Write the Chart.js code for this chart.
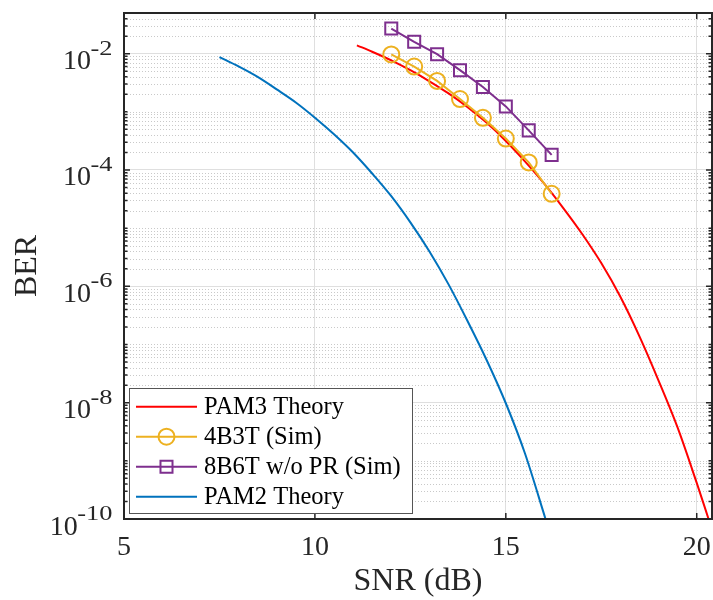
<!DOCTYPE html>
<html>
<head>
<meta charset="utf-8">
<script src="https://cdn.jsdelivr.net/npm/chart.js@4/dist/chart.umd.min.js"></script>
<style>
  html, body { margin: 0; padding: 0; background: #fff; }
  #wrap { width: 713px; height: 600px; }
</style>
</head>
<body>
<div id="wrap"><canvas id="ber_chart" width="713" height="600"></canvas></div>
<script>
// axis ticks
const snrTicks = [5, 10, 15, 20];
const berTicks = [1e-10, 1e-8, 1e-6, 1e-4, 1e-2];

// PAM3 theory
const pam3Snr = [11.1, 11.5, 12, 12.5, 13, 13.5, 14, 14.5, 15, 15.5, 16, 16.5, 17, 17.5, 18, 18.5, 19, 19.5, 20, 20.31];
const pam3Ber = [1.39e-2, 1.08e-2, 7.67e-3, 5.19e-3, 3.35e-3, 2.07e-3, 1.2e-3, 6.46e-4, 3.16e-4, 1.41e-4, 5.89e-5, 2.24e-5, 7.94e-6, 2.51e-6, 6.61e-7, 1.38e-7, 2.4e-8, 3.72e-9, 4.17e-10, 1.0e-10];

// PAM2 theory
const pam2Snr = [7.5, 8, 8.5, 9, 9.5, 10, 10.5, 11, 11.5, 12, 12.5, 13, 13.5, 14, 14.5, 15, 15.5, 16.04];
const pam2Ber = [8.75e-3, 6.03e-3, 3.98e-3, 2.43e-3, 1.45e-3, 7.94e-4, 4.12e-4, 2.0e-4, 8.71e-5, 3.55e-5, 1.26e-5, 3.98e-6, 1.08e-6, 2.51e-7, 5.37e-8, 9.77e-9, 1.35e-9, 1.0e-10];

// simulations
const simSnr = [12, 12.6, 13.2, 13.8, 14.4, 15, 15.6, 16.2];
const ber4b3t = [9.7e-3, 6.0e-3, 3.4e-3, 1.66e-3, 7.9e-4, 3.47e-4, 1.35e-4, 3.9e-5];
const ber8b6t = [2.7e-2, 1.6e-2, 9.8e-3, 5.2e-3, 2.67e-3, 1.24e-3, 4.8e-4, 1.82e-4];

const FONT = '"Liberation Serif", "Times New Roman", serif';
const AXIS = '#262626';

const toPoints = (xs, ys) => xs.map((x, i) => ({ x, y: ys[i] }));

const minorBer = [];
for (let e = -10; e <= -2; e++) {
  for (let m = 1; m <= 9; m++) {
    if (m === 1 && e % 2 === 0) continue;
    const v = m * Math.pow(10, e);
    if (v > 1e-10 && v < 0.05) minorBer.push(v);
  }
}

const matlabAxes = {
  id: 'matlabAxes',
  beforeDatasetsDraw(chart) {
    const { ctx, chartArea: { left, right }, scales: { y } } = chart;
    ctx.save();
    ctx.strokeStyle = '#c9c9c9';
    ctx.lineWidth = 1;
    ctx.setLineDash([1, 2]);
    ctx.beginPath();
    minorBer.forEach(v => {
      const py = Math.round(y.getPixelForValue(v)) + 0.5;
      ctx.moveTo(left, py);
      ctx.lineTo(right, py);
    });
    ctx.stroke();
    ctx.restore();
  },
  afterDatasetsDraw(chart) {
    const { ctx, chartArea: { left, right, top, bottom }, scales: { x, y } } = chart;
    ctx.save();
    ctx.strokeStyle = AXIS;
    ctx.lineWidth = 1.5;
    ctx.beginPath();
    snrTicks.forEach(v => {
      const px = x.getPixelForValue(v);
      ctx.moveTo(px, bottom); ctx.lineTo(px, bottom - 6);
      ctx.moveTo(px, top); ctx.lineTo(px, top + 6);
    });
    minorBer.forEach(v => {
      const py = y.getPixelForValue(v);
      ctx.moveTo(left, py); ctx.lineTo(left + 3.5, py);
      ctx.moveTo(right, py); ctx.lineTo(right - 3.5, py);
    });
    berTicks.forEach(v => {
      const py = y.getPixelForValue(v);
      ctx.moveTo(left, py); ctx.lineTo(left + 6, py);
      ctx.moveTo(right, py); ctx.lineTo(right - 6, py);
    });
    ctx.stroke();
    ctx.lineWidth = 2;
    ctx.strokeRect(left, top, right - left, bottom - top);

    // y tick labels as 10^k
    ctx.fillStyle = AXIS;
    ctx.textBaseline = 'alphabetic';
    ctx.textAlign = 'left';
    const labelRight = left - 11.5;
    const expScale = 1.2;
    berTicks.forEach(v => {
      const py = y.getPixelForValue(v);
      const expText = String(Math.round(Math.log10(v)));
      ctx.font = `22px ${FONT}`;
      const we = ctx.measureText(expText).width * expScale;
      ctx.font = `28px ${FONT}`;
      const wb = ctx.measureText('10').width;
      const ex = labelRight - we;
      ctx.fillText('10', ex - wb + 0.5, py + 15.5);
      ctx.save();
      ctx.translate(ex, py + 1);
      ctx.scale(expScale, 1);
      ctx.font = `22px ${FONT}`;
      ctx.fillText(expText, 0, 0);
      ctx.restore();
    });

    // legend
    const lx = left + 5, ly = bottom - 131, lw = 283, lh = 125;
    ctx.fillStyle = '#fff';
    ctx.fillRect(lx, ly, lw, lh);
    ctx.strokeStyle = '#555';
    ctx.lineWidth = 1;
    ctx.strokeRect(lx + 0.5, ly + 0.5, lw, lh);
    ctx.font = `24.5px ${FONT}`;
    ctx.textBaseline = 'middle';
    chart.data.datasets.forEach((ds, i) => {
      const ry = ly + 18.7 + 30 * i;
      ctx.strokeStyle = ds.borderColor;
      ctx.lineWidth = 2;
      ctx.beginPath();
      ctx.moveTo(lx + 7, ry); ctx.lineTo(lx + 68, ry);
      ctx.stroke();
      if (ds.pointRadius > 0) {
        ctx.strokeStyle = ds.pointBorderColor;
        ctx.lineWidth = ds.pointBorderWidth;
        ctx.beginPath();
        if (ds.pointStyle === 'rect') {
          const s = ds.pointRadius * Math.SQRT1_2;
          ctx.rect(lx + 37.5 - s, ry - s, 2 * s, 2 * s);
        } else {
          ctx.arc(lx + 37.5, ry, ds.pointRadius, 0, Math.PI * 2);
        }
        ctx.stroke();
      }
      ctx.fillStyle = '#000';
      ctx.fillText(ds.label, lx + 75, ry + 1);
    });
    ctx.restore();
  },
};

new Chart(document.getElementById('ber_chart'), {
  type: 'line',
  data: {
    datasets: [
      {
        label: 'PAM3 Theory',
        data: toPoints(pam3Snr, pam3Ber),
        borderColor: '#ff0000',
        borderWidth: 2,
        pointRadius: 0,
        cubicInterpolationMode: 'monotone',
        order: 3,
      },
      {
        label: '4B3T (Sim)',
        data: toPoints(simSnr, ber4b3t),
        borderColor: '#edb120',
        borderWidth: 2,
        pointStyle: 'circle',
        pointRadius: 8,
        pointBorderWidth: 2,
        pointBorderColor: '#edb120',
        pointBackgroundColor: 'rgba(0,0,0,0)',
        tension: 0,
        order: 2,
      },
      {
        label: '8B6T w/o PR (Sim)',
        data: toPoints(simSnr, ber8b6t),
        borderColor: '#7e2f8e',
        borderWidth: 2,
        pointStyle: 'rect',
        pointRadius: 8.5,
        pointBorderWidth: 2,
        pointBorderColor: '#7e2f8e',
        pointBackgroundColor: 'rgba(0,0,0,0)',
        tension: 0,
        order: 1,
      },
      {
        label: 'PAM2 Theory',
        data: toPoints(pam2Snr, pam2Ber),
        borderColor: '#0072bd',
        borderWidth: 2,
        pointRadius: 0,
        cubicInterpolationMode: 'monotone',
        order: 0,
      },
    ],
  },
  options: {
    responsive: false,
    animation: false,
    devicePixelRatio: 1,
    layout: { autoPadding: false, padding: { top: 13, right: 1, left: 0, bottom: 0 } },
    plugins: { legend: { display: false }, tooltip: { enabled: false } },
    scales: {
      x: {
        type: 'linear',
        min: 5,
        max: 20.4,
        afterBuildTicks: s => { s.ticks = snrTicks.map(v => ({ value: v })); },
        afterFit: s => { s.height = 81; s.paddingLeft = 0; s.paddingRight = 0; },
        grid: { color: '#dfdfdf', lineWidth: 1, drawTicks: false },
        border: { display: false },
        ticks: { padding: 12, color: AXIS, font: { family: FONT, size: 28 }, maxRotation: 0, autoSkip: false },
        title: { display: true, text: 'SNR (dB)', color: AXIS, font: { family: FONT, size: 32, lineHeight: 1 }, padding: { top: 0, bottom: 2 } },
      },
      y: {
        type: 'logarithmic',
        min: 1e-10,
        max: 0.05,
        afterBuildTicks: s => { s.ticks = berTicks.map(v => ({ value: v, major: true })); },
        afterFit: s => { s.width = 124; s.paddingTop = 0; s.paddingBottom = 0; },
        grid: { color: '#dfdfdf', lineWidth: 1, drawTicks: false },
        border: { display: false },
        ticks: { display: false },
        title: { display: true, text: 'BER', color: AXIS, font: { family: FONT, size: 32, lineHeight: 1 }, padding: { top: 11.5, bottom: 0 } },
      },
    },
  },
  plugins: [matlabAxes],
});
</script>
</body>
</html>
